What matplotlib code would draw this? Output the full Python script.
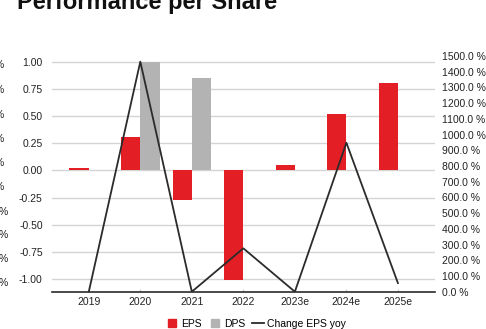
import numpy as np
import matplotlib.pyplot as plt
from matplotlib.lines import Line2D

plt.rcParams["font.family"] = ["Liberation Sans", "DejaVu Sans"]

years = ["2019", "2020", "2021", "2022", "2023e", "2024e", "2025e"]
eps = [0.02, 0.31, -0.27, -1.01, 0.05, 0.52, 0.80]
dps = [0.0, 1.00, 0.85, 0.0, 0.0, 0.0, 0.0]
eps_yoy = [0.0, 1464.0, 0.0, 276.0, 0.0, 948.0, 55.0]

left_ticks = [1.0, 0.75, 0.5, 0.25, 0.0, -0.25, -0.5, -0.75, -1.0]
right_ticks = list(range(0, 1501, 100))

red = "#e31e24"
grey = "#b3b3b3"
dark = "#2b2b2b"

W, H = 486, 329
fig = plt.figure(figsize=(W / 100, H / 100), dpi=100)
ax = fig.add_axes([51.7 / W, 1 - 291.7 / H, (435 - 51.7) / W, (291.7 - 56) / H])

x = np.arange(len(years))
bw = 0.375
ax.bar(x - bw / 2, eps, bw, color=red, zorder=3)
ax.bar(x + bw / 2, dps, bw, color=grey, zorder=3)

ax.set_xlim(-0.72, len(years) - 1 + 0.72)
ax.set_ylim(-1.114, 1.052)
ax.set_yticks(left_ticks)
ax.set_yticklabels(["%.2f" % v for v in left_ticks])
ax.set_xticks(x)
ax.set_xticklabels(years)
ax.yaxis.grid(True, color="#d4d4d4", linewidth=1.0, zorder=0)
ax.set_axisbelow(True)
for s in ["top", "right", "left"]:
    ax.spines[s].set_visible(False)
ax.spines["bottom"].set_color(dark)
ax.spines["bottom"].set_linewidth(1.2)
ax.spines["bottom"].set_zorder(5)
ax.tick_params(axis="y", length=0, pad=6.5, labelsize=7.5, colors="#222222")
ax.tick_params(axis="x", length=2, direction="in", color="#cccccc", pad=4, labelsize=7.5, labelcolor="#222222")

ax2 = ax.twinx()
ax2.plot(x, eps_yoy, color=dark, linewidth=1.3, zorder=4)
ax2.set_ylim(0, 1500)
ax2.set_yticks(right_ticks)
ax2.set_yticklabels(["%.1f %%" % v for v in right_ticks])
ax2.tick_params(axis="y", length=0, pad=5, labelsize=7.5, colors="#222222")
for s in ["top", "right", "left", "bottom"]:
    ax2.spines[s].set_visible(False)

# title, cut off by the crop
fig.text(17 / W, 1 - 8.5 / H, "Performance per Share", fontsize=17,
         fontweight="bold", va="baseline", ha="left", color="#111111")

# fragments of the neighbouring axis, cut off at the left edge
frag_y = [65, 90, 115, 139, 163, 187, 212, 235, 259, 283]
for i, yy in enumerate(frag_y):
    xr = 3.5 if i < 6 else 7.5
    fig.text(xr / W, 1 - yy / H, "%", fontsize=7.5, ha="right", va="center", color="#222222")

handles = [
    Line2D([], [], marker="s", linestyle="none", color=red, markersize=6),
    Line2D([], [], marker="s", linestyle="none", color=grey, markersize=6),
    Line2D([], [], color=dark, linewidth=1.3),
]
fig.legend(handles, ["EPS", "DPS", "Change EPS yoy"], loc="center",
           bbox_to_anchor=(256 / W, 1 - 324 / H), ncol=3, frameon=False,
           fontsize=7.5, handlelength=1.2, handletextpad=0.3, columnspacing=0.6,
           borderpad=0)

fig.savefig("out.png", dpi=100)
